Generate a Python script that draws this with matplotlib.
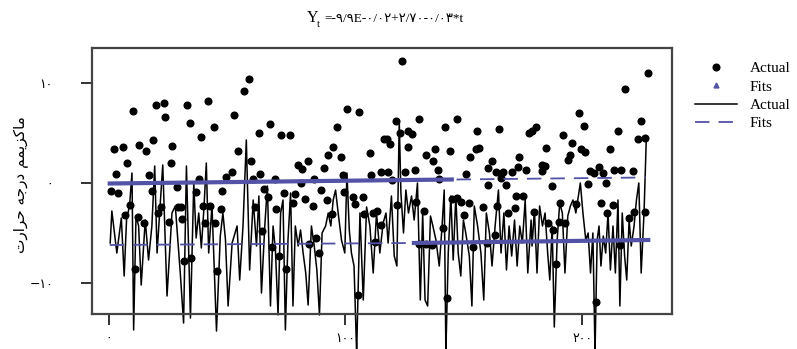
import matplotlib
matplotlib.use('Agg')
import matplotlib.pyplot as plt
from matplotlib.lines import Line2D

# نقاط (Actual) - نمودار نقطه ای
dot_t = [10.2, 20.0, 23.3, 23.8, 33.2, 34.3, 41.9, 44.4, 39.2, 52.9,
         2.3, 6.1, 12.9, 15.9, 18.9, 26.9, 7.9, 26.4, 3.0, 17.1,
         1.0, 4.1, 28.9, 38.1, 36.8, 49.5, 52.2, 48.1, 54.6, 18.5,
         9.0, 7.1, 12.4, 15.0, 22.2, 20.9, 25.4, 29.3, 30.6, 31.0,
         40.0, 43.0, 40.9, 44.9, 47.5, 31.9, 35.0, 11.0, 45.7,
         59.2, 57.3, 68.4, 63.5, 73.0, 76.8, 100.9, 105.8, 96.4, 94.9,
         92.8, 98.0, 110.4, 116.4, 84.3, 80.1, 81.9, 91.1, 60.3, 64.0,
         60.9, 70.2, 86.8, 99.0, 110.8, 115.3, 81.5, 65.8, 89.7, 67.3,
         74.0, 78.9, 78.1, 83.0, 86.3, 92.2, 99.5, 103.3, 107.3, 104.1,
         94.6, 107.9, 111.8, 113.4, 61.8, 70.8, 65.0, 87.7, 69.1, 84.7,
         89.1, 71.9, 75.0, 105.2, 115.3, 112.5,
         123.8, 121.4, 131.1, 147.0, 142.1, 155.8, 165.1, 177.5, 123.1, 126.3,
         128.3, 117.6, 119.0, 126.7, 138.0, 134.2, 137.0, 144.2, 156.3, 155.1,
         152.8, 161.8, 173.5, 118.1, 125.2, 129.4, 139.3, 150.8, 160.1, 163.8,
         166.6, 170.3, 172.8, 176.4, 139.7, 165.6, 160.4, 168.0, 119.8, 129.9,
         133.1, 145.1, 147.3, 149.0, 152.1, 150.1, 158.3, 164.1, 171.5, 168.9,
         175.2, 172.3, 121.8, 136.6, 141.4, 153.8, 159.9, 163.3, 142.8, 131.0,
         133.9,
         228.0, 218.2, 198.9, 200.9, 215.1, 224.8, 223.6, 226.8, 180.7, 178.9,
         192.1, 195.9, 184.8, 194.8, 194.0, 199.4, 201.4, 211.9, 183.0, 184.4,
         183.1, 203.3, 205.2, 207.1, 209.0, 213.6, 216.5, 221.7, 187.4, 202.4,
         210.3, 190.7, 208.1, 197.3, 213.2, 210.4, 179.9, 185.8, 187.6, 190.2,
         192.7, 219.7, 222.1, 226.8, 216.2, 188.9, 206.0]
dot_y = [7.2, 7.8, 8.0, 6.6, 7.8, 6.0, 8.2, 5.6, 4.6, 6.8,
         3.4, 3.6, 3.8, 3.2, 4.3, 3.7, 2.0, 2.0, 0.9, 0.8,
         -0.8, -1.0, -0.4, 0.4, -0.9, 0.6, 1.1, -0.8, 3.2, -0.8,
         -2.2, -3.2, -3.4, -4.0, -2.4, -3.0, -3.9, -2.4, -2.4, -3.6,
         -2.3, -2.3, -4.0, -4.0, -2.6, -7.8, -7.5, -8.6, -8.8,
         10.4, 9.2, 5.9, 5.0, 4.8, 4.8, 7.4, 7.1, 5.6, 3.6,
         2.8, 2.6, 3.0, 4.4, 2.2, 1.8, 1.4, 1.5, 2.2, 0.9,
         0.4, 0.4, 0.4, 0.8, 0.8, 1.1, 0.0, -0.6, -0.7, -1.4,
         -1.0, -1.1, -2.0, -1.6, -2.3, -1.7, -0.9, -1.4, -1.4, -2.1,
         -3.1, -3.1, -3.0, -2.8, -2.4, -2.6, -4.8, -5.5, -6.4, -6.1,
         -7.0, -7.3, -8.6, -11.2, -4.2, -5.9,
         12.2, 6.2, 6.4, 6.4, 5.6, 5.2, 5.4, 5.0, 5.0, 5.2,
         4.9, 4.4, 3.9, 3.6, 3.4, 2.8, 2.2, 3.2, 3.5, 3.4,
         2.6, 2.2, 2.6, 1.1, 1.1, 1.3, 1.3, 0.9, 1.5, 1.1,
         1.1, 1.1, 1.6, 1.3, 0.4, 0.5, -0.2, -0.2, 0.3, -1.9,
         -2.8, -1.6, -1.5, -1.9, -2.0, -3.2, -2.4, -2.3, -2.5, -3.0,
         -1.3, -1.3, -2.2, -6.2, -4.5, -6.4, -6.0, -5.2, -11.5, -6.1,
         -6.1,
         11.0, 9.4, 7.0, 5.7, 5.2, 6.2, 4.4, 4.5, 5.6, 5.2,
         4.8, 4.0, 3.5, 2.8, 2.3, 3.4, 3.1, 3.4, 1.8, 1.7,
         1.2, 1.2, 1.0, 1.6, 1.0, 1.3, 1.3, 1.2, -0.3, -0.1,
         0.0, -2.0, -2.0, -2.1, -2.2, -3.0, -2.9, -4.0, -4.7, -3.9,
         -4.0, -3.5, -2.9, -2.9, -6.2, -8.1, -11.9]

# سری خطی (Actual)
line_t = [0.7, 1.4, 3.5, 5.4, 6.6, 7.6, 8.9, 9.9, 10.6, 11.6, 12.7, 13.8, 15.5, 16.9,
          18.3, 19.5, 20.5, 21.6, 22.9, 24.7, 26.8, 28.2, 30.3, 31.7, 32.9, 34.6, 36.0,
          37.0, 38.1, 39.2, 40.3, 41.3, 42.3, 43.7, 45.6, 47.2, 48.3, 49.4, 50.5, 52.2, 54.3,
          55.4, 56.8, 58.2, 59.6, 61.1, 62.5, 63.5, 64.6, 66.0, 67.1, 68.4, 69.5, 70.5,
          71.6, 72.7, 73.7, 74.7, 75.8, 76.9, 77.9, 78.9, 80.1, 81.1, 82.2, 83.3, 84.3,
          85.7, 86.9, 88.0, 89.1, 90.2, 91.7, 92.8, 93.9, 94.9, 95.9, 97.0, 98.4, 99.8,
          100.7, 101.7, 102.6, 103.7, 104.8, 106.2, 107.6, 109.0, 110.4, 111.8, 113.2,
          114.6, 116.0,
          117.2, 118.1, 119.5, 120.7, 121.8, 122.8, 123.5, 124.6, 125.6, 126.7, 128.0,
          129.1, 130.5, 131.7, 132.7, 133.7, 134.8, 136.0, 137.0, 138.3, 139.7, 140.9,
          141.8, 142.5, 143.5, 144.6, 145.6, 146.7, 147.7, 148.8, 149.9, 150.9, 152.4,
          153.5, 154.5, 155.9, 157.3, 158.5, 159.6, 160.9, 162.0, 163.3, 164.7, 165.8,
          167.0, 168.1, 169.2, 170.3, 171.5, 172.6, 173.7, 174.8, 176.0, 177.1, 178.5,
          178.9, 179.9, 181.0, 182.1, 183.3, 184.4, 185.5, 186.4, 187.4, 188.3, 189.5,
          190.6, 191.7, 192.8, 194.0, 195.1, 196.2, 197.4, 198.5, 199.3, 200.4, 201.6,
          202.6, 203.6, 204.6, 205.5, 206.4, 207.2, 208.0, 209.0, 210.0, 211.0, 212.0,
          213.1, 214.1, 215.2, 216.0, 217.0, 218.0, 218.9, 219.9, 220.8, 222.0, 223.0,
          224.0, 225.0, 226.2, 227.2]
line_y = [-6.0, -2.8, -7.0, -3.5, -9.3, -3.7, -2.2, 1.0, -14.7, -3.3, -4.3, -10.2, -3.7, -7.7,
          -4.3, 1.7, -7.0, -3.0, 1.8, -11.3, -3.0, -2.3, -9.0, -14.0, 1.7, -13.5, 0.0,
          -5.5, -3.0, -6.5, -2.5, 2.0, -7.0, -2.3, -14.8, -5.3, -3.0, -5.7, -12.3, -6.0, -4.3,
          -9.7, -4.3, 4.3, -8.7, -1.7, -6.3, -1.3, -11.0, -4.3, -0.3, -12.3, -4.3, -6.7,
          -13.2, -3.0, -1.7, -14.7, -5.7, -1.0, -12.3, -4.3, -6.3, -4.7, -7.0, -9.0, -12.2,
          -4.3, -6.3, -8.7, -13.2, -5.0, -4.3, -3.0, -4.3, -1.7, -0.7, -3.0, -5.7, -7.0,
          1.0, -4.7, -7.0, -8.3, -17.0, -3.0, -11.7, -2.4, -4.3, -9.0, -3.0,
          -7.0, -4.0,
          -3.0, -6.0, -1.3, -7.3, -8.3, 6.2, -1.0, -5.0, -0.7, -3.0, -1.3,
          -3.7, 0.0, -11.7, -3.0, -11.7, -12.3, -3.3, -4.3, -5.7, -8.3, -4.3,
          -0.7, -17.0, -7.0, -1.3, -7.7, -1.3, -7.0, -9.3, -3.7, -5.0, -7.3,
          -12.3, -2.3, -4.3, -7.0, -11.7, -3.0, -5.0, -8.3, -4.3, -0.7, -7.0,
          -3.0, -8.7, -4.3, -7.3, -3.7, -8.3, -4.3, -6.0, -1.7, -9.0, -3.7,
          -6.3, -2.7, -9.0, -2.3, -4.3, -3.0, -7.0, -9.7, -4.3, -14.4, -5.7,
          -2.0, -3.0, -9.0, -3.3, -2.3, -1.7, -3.0, -1.3, 0.0, -3.0, -5.7,
          -5.0, -9.0, -5.0, -17.0, -5.7, -4.3, -8.3, -5.3, -7.0, -3.0, -8.7,
          -4.3, -9.0, -1.7, -12.3, -3.0, -7.3, -9.7, -3.7, -6.3, -4.3, -1.7,
          0.0, -9.0, -3.0, 4.7]

# خطوط برازش (Fits)
fit_up_solid_t = [0.5, 145.0]
fit_up_solid_y = [-0.05, 0.35]
fit_up_dash_t = [147.0, 227.0]
fit_up_dash_y = [0.35, 0.55]
fit_lo_dash_t = [0.5, 129.0]
fit_lo_dash_y = [-6.2, -6.0]
fit_lo_solid_t = [129.0, 228.0]
fit_lo_solid_y = [-6.0, -5.7]

xticks = [0, 100, 200]
xtick_labels = ['۰', '۱۰۰', '۲۰۰']
yticks = [-10, 0, 10]
ytick_labels = ['−۱۰', '۰', '۱۰']

fit_color = '#5252a6'
serif = ['Liberation Serif', 'DejaVu Sans']

fig = plt.figure(figsize=(7.97, 3.49), dpi=100)
ax = fig.add_axes([0.1154, 0.1003, 0.7277, 0.7622])

ax.plot(line_t, line_y, color='black', lw=1.1, clip_on=False, zorder=2)
ax.plot(dot_t, dot_y, 'o', color='black', ms=4.8, zorder=3)
ax.plot(fit_up_solid_t, fit_up_solid_y, color=fit_color, lw=3, zorder=4)
ax.plot(fit_up_dash_t, fit_up_dash_y, color=fit_color, lw=1.3, dashes=(8, 5), zorder=4)
ax.plot(fit_lo_dash_t, fit_lo_dash_y, color=fit_color, lw=1.3, dashes=(8, 5), zorder=4)
ax.plot(fit_lo_solid_t, fit_lo_solid_y, color=fit_color, lw=3, zorder=4)

ax.set_xlim(-7, 238)
ax.set_ylim(-13.1, 13.5)
ax.set_xticks(xticks)
ax.set_xticklabels(xtick_labels, family='DejaVu Sans', fontsize=9)
ax.set_yticks(yticks)
ax.set_yticklabels(ytick_labels, family='DejaVu Sans', fontsize=9)
ax.tick_params(axis='x', length=8, width=1.3, pad=5, color='#222222')
ax.tick_params(axis='y', length=8, width=1.3, pad=20, color='#222222')
for sp in ax.spines.values():
    sp.set_color('#444444')
    sp.set_linewidth(1.6)

# برچسب محور y (حروف فارسی به صورت شکل های نمایشی و ترتیب دیداری)
ylabel = '\ufe95\ufead\ufe8d\ufeae\ufea3 \ufeea\ufe9f\ufead\ufea9 \ufee2\ufee4\ufbfe\ufeb0\ufb90\ufe8e\ufee3'
fig.text(0.027, 0.47, ylabel, rotation=90, ha='center', va='center',
         family='DejaVu Sans', fontsize=11)

# عنوان
fig.text(0.385, 0.937, 'Y', family=serif, fontsize=11.5, ha='left', va='baseline')
fig.text(0.3975, 0.922, 't', family=serif, fontsize=8, ha='left', va='baseline')
fig.text(0.4065, 0.937, '=-۹/۹E-۰/۰۲+۲/۷۰-۰/۰۳*t', family=serif, fontsize=9.5,
         ha='left', va='baseline')

handles = [Line2D([], [], ls='none', marker='o', color='black', ms=4.8),
           Line2D([], [], ls='none', marker='^', color=fit_color, ms=3.5),
           Line2D([], [], color='black', lw=1.1),
           Line2D([], [], color=fit_color, lw=1.3, dashes=(8, 5))]
labels = ['Actual', 'Fits', 'Actual', 'Fits']
leg = fig.legend(handles, labels, loc='upper left', bbox_to_anchor=(0.862, 0.845),
                 frameon=False, prop={'family': serif, 'size': 11},
                 handlelength=2.8, handletextpad=0.8, labelspacing=0.3, borderpad=0)

fig.savefig('out.png', dpi=100)
